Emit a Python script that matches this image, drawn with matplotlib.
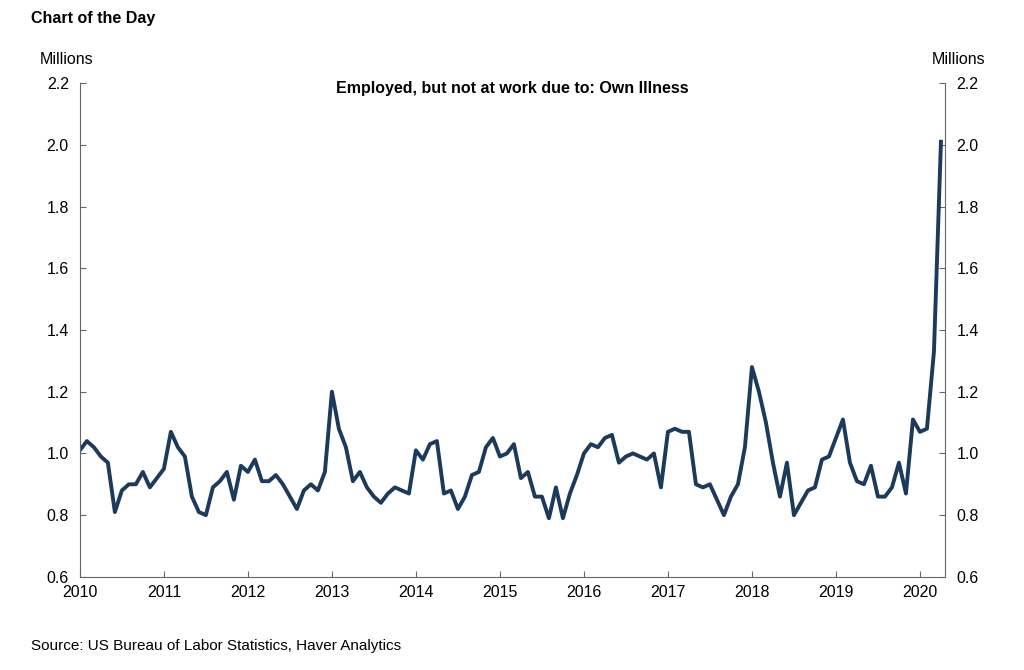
import matplotlib.pyplot as plt
import numpy as np

plt.rcParams['font.family'] = ['Liberation Sans', 'DejaVu Sans']

# Monthly values, Jan 2010 - Apr 2020 (millions)
values_2010 = [1.01, 1.04, 1.02, 0.99, 0.97, 0.81, 0.88, 0.90, 0.90, 0.94, 0.89, 0.92]
values_2011 = [0.95, 1.07, 1.02, 0.99, 0.86, 0.81, 0.80, 0.89, 0.91, 0.94, 0.85, 0.96]
values_2012 = [0.94, 0.98, 0.91, 0.91, 0.93, 0.90, 0.86, 0.82, 0.88, 0.90, 0.88, 0.94]
values_2013 = [1.20, 1.08, 1.02, 0.91, 0.94, 0.89, 0.86, 0.84, 0.87, 0.89, 0.88, 0.87]
values_2014 = [1.01, 0.98, 1.03, 1.04, 0.87, 0.88, 0.82, 0.86, 0.93, 0.94, 1.02, 1.05]
values_2015 = [0.99, 1.00, 1.03, 0.92, 0.94, 0.86, 0.86, 0.79, 0.89, 0.79, 0.87, 0.93]
values_2016 = [1.00, 1.03, 1.02, 1.05, 1.06, 0.97, 0.99, 1.00, 0.99, 0.98, 1.00, 0.89]
values_2017 = [1.07, 1.08, 1.07, 1.07, 0.90, 0.89, 0.90, 0.85, 0.80, 0.86, 0.90, 1.02]
values_2018 = [1.28, 1.20, 1.10, 0.97, 0.86, 0.97, 0.80, 0.84, 0.88, 0.89, 0.98, 0.99]
values_2019 = [1.05, 1.11, 0.97, 0.91, 0.90, 0.96, 0.86, 0.86, 0.89, 0.97, 0.87, 1.11]
values_2020 = [1.07, 1.08, 1.33, 2.01]

values = (values_2010 + values_2011 + values_2012 + values_2013 + values_2014
          + values_2015 + values_2016 + values_2017 + values_2018 + values_2019
          + values_2020)
time = 2010 + np.arange(len(values)) / 12.0
years = list(range(2010, 2021))
y_ticks = [0.6, 0.8, 1.0, 1.2, 1.4, 1.6, 1.8, 2.0, 2.2]

fig = plt.figure(figsize=(10.24, 6.7), dpi=100)
ax = fig.add_axes([0.078, 0.139, 0.845, 0.737])
ax.plot(time, values, color="#1b3a5c", linewidth=2.8)

ax.set_xlim(2010, 2020.3)
ax.set_ylim(0.6, 2.2)
ax.set_xticks(years)
ax.set_xticklabels([str(y) for y in years], fontsize=11.5)
ax.set_yticks(y_ticks)
ax.set_yticklabels([f"{v:.1f}" for v in y_ticks], fontsize=11.5)
ax.tick_params(axis="y", which="both", left=True, right=True,
               labelleft=True, labelright=True, direction="in", length=4,
               color="#666666", pad=8)
ax.tick_params(axis="x", direction="in", length=4, color="#666666", pad=6)
ax.spines["top"].set_visible(False)
for s in ["left", "right", "bottom"]:
    ax.spines[s].set_color("#666666")

ax.set_title("Employed, but not at work due to: Own Illness",
             fontsize=11.5, fontweight="bold", pad=-2, y=0.985)
fig.text(0.03, 0.965, "Chart of the Day", fontsize=11.5, fontweight="bold")
fig.text(0.039, 0.905, "Millions", fontsize=11.5)
fig.text(0.962, 0.905, "Millions", fontsize=11.5, ha="right")
fig.text(0.03, 0.03, "Source: US Bureau of Labor Statistics, Haver Analytics",
         fontsize=11)

fig.savefig("out.png", dpi=100)
plt.close(fig)
